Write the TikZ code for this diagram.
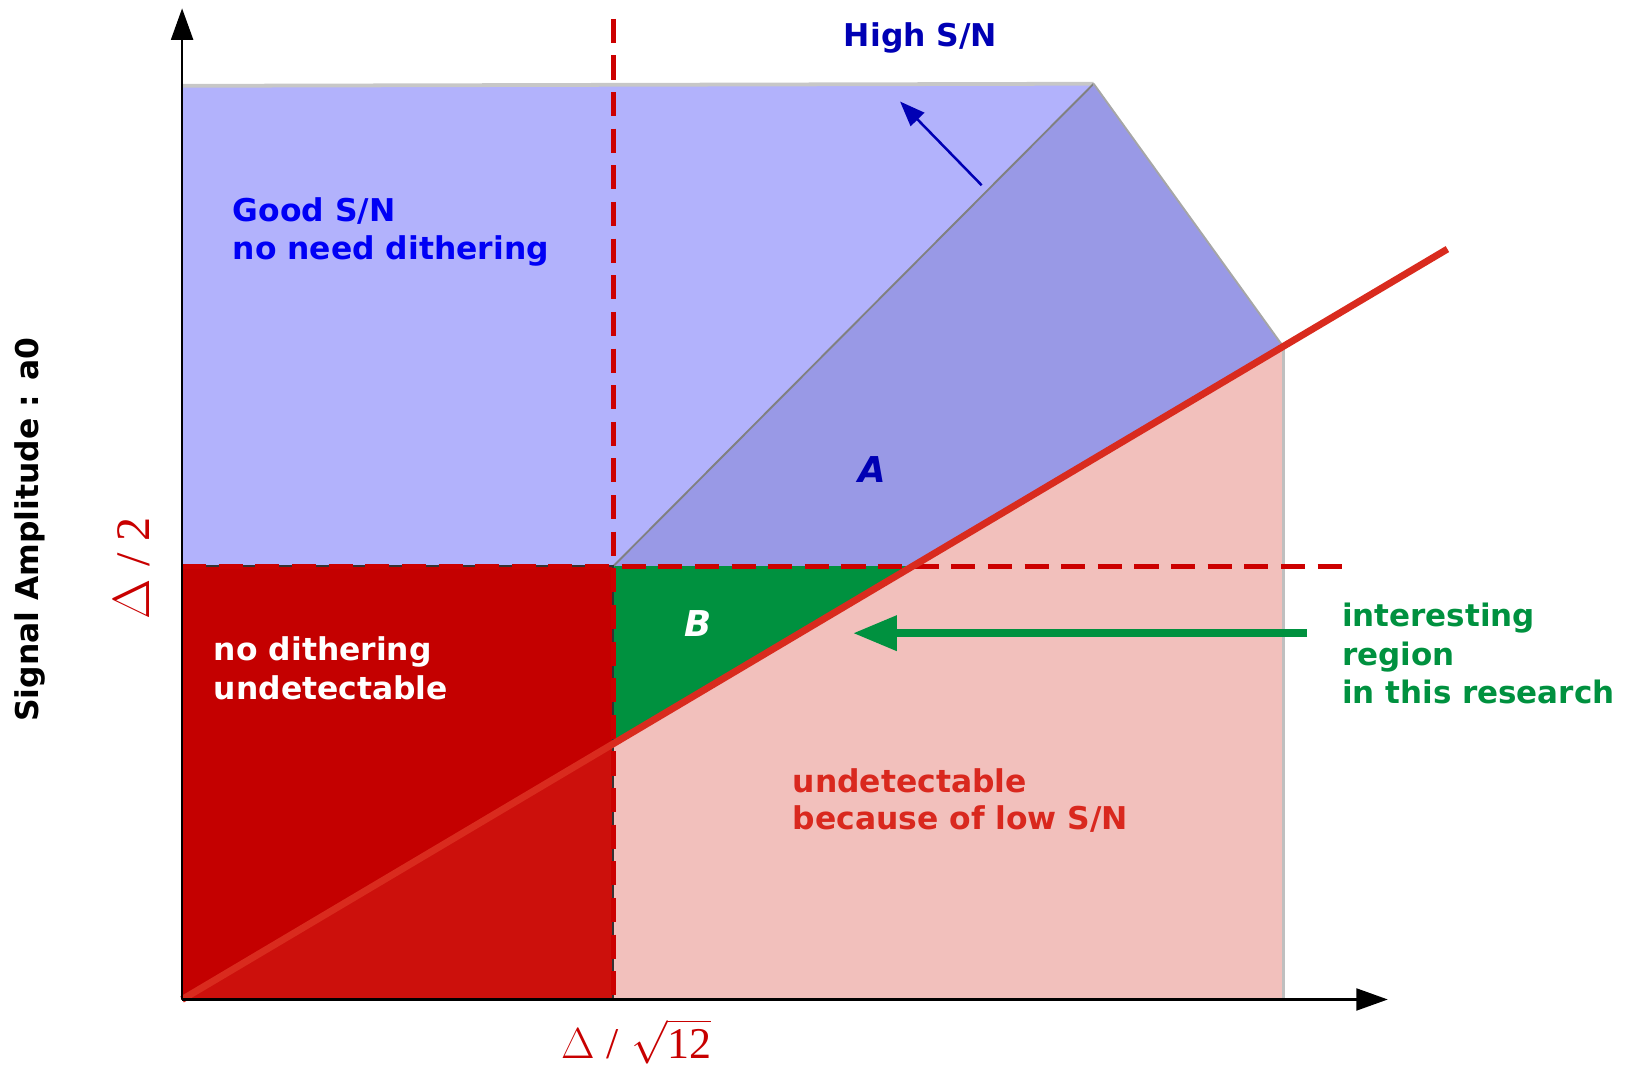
\documentclass[tikz,border=0pt]{standalone}
\usepackage{fontspec}
\setmainfont{DejaVu Sans}
\newfontfamily\seriffont{Liberation Serif}
\usetikzlibrary{arrows.meta}
\definecolor{lblue}{HTML}{B2B2FC}
\definecolor{dblue}{HTML}{9999E6}
\definecolor{pinkz}{HTML}{F2C0BC}
\definecolor{dred}{HTML}{C40000}
\definecolor{trired}{HTML}{CC100C}
\definecolor{gz}{HTML}{00913F}
\definecolor{rline}{HTML}{D92B1E}
\definecolor{dashred}{HTML}{CC0000}
\definecolor{txtblue}{HTML}{0000F5}
\definecolor{navyb}{HTML}{0000B4}
\definecolor{txtred}{HTML}{D9281E}
\definecolor{lblred}{HTML}{C80000}
\begin{document}
\begin{tikzpicture}[x=0.5pt,y=-0.5pt,
  lbl/.style={font=\fontsize{15}{18}\selectfont\bfseries, anchor=base west, inner sep=0pt},
  glbl/.style={font=\fontsize{14.8}{18}\selectfont\bfseries, anchor=base west, inner sep=0pt, text=gz},
  letter/.style={font=\fontsize{17}{20}\selectfont\bfseries\itshape, inner sep=0pt},
  dashln/.style={dashred, line width=2.2pt, dash pattern=on 11.5pt off 6pt},
  edge/.style={line width=0.9pt},
  axis/.style={black, line width=1pt, -{Triangle[length=15pt,width=10.5pt]}}]
\useasboundingbox (0,0) rectangle (1568,1018);
% key points
\coordinate (O) at (174,955);
\coordinate (TL) at (174,82);
\coordinate (TR) at (1045,80);
\coordinate (P) at (586,541);
\coordinate (Q) at (872,541);
\coordinate (R) at (1226,331);
\coordinate (S) at (586,711);
\coordinate (PB) at (586,955);
\coordinate (RB) at (1226,955);
\coordinate (HL) at (174,541);
\coordinate (RE) at (1383,238);
% regions
\fill[lblue] (TL) -- (TR) -- (P) -- (HL) -- cycle;
\fill[dblue] (P) -- (TR) -- (R) -- (Q) -- cycle;
\fill[pinkz] (S) -- (R) -- (RB) -- (PB) -- cycle;
\fill[dred] (HL) rectangle (PB);
\fill[trired] (O) -- (S) -- (PB) -- cycle;
\fill[gz] (P) -- (Q) -- (S) -- cycle;
% edges
\draw[edge, black!22, line width=1.8pt] (TL) -- (TR);
\draw[edge, black!50] (P) -- (TR);
\draw[edge, black!35] (TR) -- (R);
\draw[edge, black!25, line width=1.5pt] (R) -- (RB);
\draw[black!80, line width=0.8pt] (HL) rectangle (PB);
% dashed guides
\coordinate (VT) at (586,18);
\coordinate (HE) at (1292,541);
\draw[dashln] (VT) -- (PB);
\draw[dashln] (HL) -- (HE);
% red threshold line
\draw[rline, line width=3.3pt] (O) -- (RE);
% axes
\coordinate (YT) at (174,8);
\coordinate (XT) at (1326,955);
\draw[axis] (O) -- (YT);
\draw[axis] (O) -- (XT);
% arrows
\coordinate (ba1) at (938,177);
\coordinate (ba2) at (860,97);
\draw[navyb, line width=1.2pt, -{Triangle[length=12pt,width=9pt]}] (ba1) -- (ba2);
\coordinate (ga1) at (1249,605);
\coordinate (ga2) at (815,605);
\draw[gz, line width=4pt, -{Triangle[length=21pt,width=16pt]}] (ga1) -- (ga2);
% texts
\node[lbl, text=navyb] (high) at (806,44) {High S/N};
\node[lbl, text=txtblue] (good1) at (222,212) {Good S/N};
\node[lbl, text=txtblue] (good2) at (222,248) {no need dithering};
\node[lbl, text=white] (nod1) at (204,631) {no dithering};
\node[lbl, text=white] (nod2) at (204,668) {undetectable};
\node[lbl, text=txtred] (und1) at (757,757) {undetectable};
\node[lbl, text=txtred] (und2) at (757,793) {because of low S/N};
\node[glbl] (int1) at (1282,599) {interesting};
\node[glbl] (int2) at (1282,636) {region};
\node[glbl] (int3) at (1282,672) {in this research};
\node[letter, text=navyb] (lA) at (833,449) {A};
\node[letter, text=white] (lB) at (667,596) {B};
\node[font=\fontsize{15}{18}\selectfont\bfseries, rotate=90, inner sep=0pt] (ylab) at (29,506) {Signal Amplitude : a0};
\node[font=\seriffont\fontsize{23}{26}\selectfont, text=lblred, rotate=90, inner sep=0pt] (half) at (126,543) {$\Delta$ / 2};
\node[font=\seriffont\fontsize{21}{24}\selectfont, text=lblred, inner sep=0pt] (rms) at (608,995) {$\Delta$\;/\;$\sqrt{\hbox{\seriffont\fontsize{21}{24}\selectfont 12}}$};
\end{tikzpicture}
\end{document}
